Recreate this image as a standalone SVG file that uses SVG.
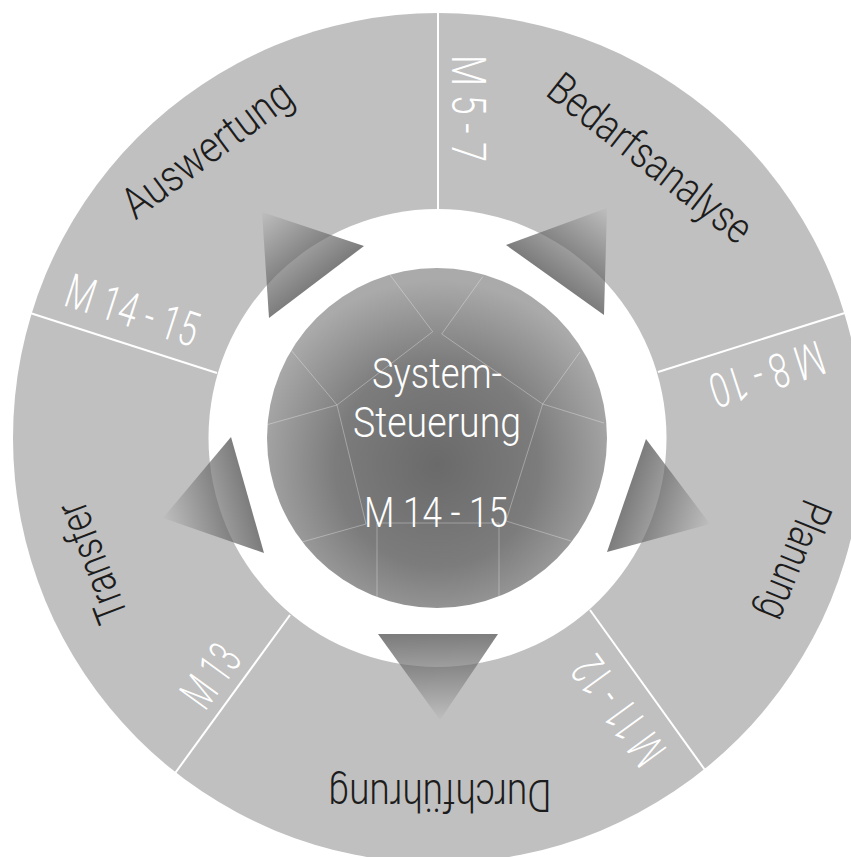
<svg xmlns="http://www.w3.org/2000/svg" width="851" height="857" viewBox="0 0 851 857">
<style>
  .lbl { font-family: Roboto, "Liberation Sans", "DejaVu Sans", sans-serif; font-weight: 300; fill: #1c1c1c; font-size: 44px; }
  .mlbl { font-family: Roboto, "Liberation Sans", "DejaVu Sans", sans-serif; font-weight: 300; fill: #ffffff; font-size: 48px; }
  .ctr { font-family: Roboto, "Liberation Sans", "DejaVu Sans", sans-serif; font-weight: 300; fill: #ffffff; font-size: 43px; text-anchor: middle; }
  .div { stroke: #ffffff; stroke-width: 2; fill: none; }
  .pent { stroke: #ffffff; stroke-opacity: 0.4; stroke-width: 0.8; fill: none; }
  .tri { opacity: 0.65; }
</style>
<defs>
  <radialGradient id="core" cx="437" cy="465" r="185" gradientUnits="userSpaceOnUse">
    <stop offset="0" stop-color="#6a6a6a"/>
    <stop offset="0.55" stop-color="#7c7c7c"/>
    <stop offset="1" stop-color="#aaaaaa"/>
  </radialGradient>
  <linearGradient id="gB" gradientUnits="userSpaceOnUse" x1="438" y1="634" x2="440" y2="720">
    <stop offset="0" stop-color="#363636"/><stop offset="1" stop-color="#bdbdbd"/>
  </linearGradient>
  <linearGradient id="gL" gradientUnits="userSpaceOnUse" x1="247.5" y1="495" x2="163" y2="518">
    <stop offset="0" stop-color="#363636"/><stop offset="1" stop-color="#bdbdbd"/>
  </linearGradient>
  <linearGradient id="gR" gradientUnits="userSpaceOnUse" x1="626.5" y1="495.5" x2="710" y2="524">
    <stop offset="0" stop-color="#363636"/><stop offset="1" stop-color="#bdbdbd"/>
  </linearGradient>
  <linearGradient id="gTL" gradientUnits="userSpaceOnUse" x1="316.5" y1="282" x2="262" y2="212">
    <stop offset="0" stop-color="#363636"/><stop offset="1" stop-color="#bdbdbd"/>
  </linearGradient>
  <linearGradient id="gTR" gradientUnits="userSpaceOnUse" x1="555" y1="280" x2="607" y2="208">
    <stop offset="0" stop-color="#363636"/><stop offset="1" stop-color="#bdbdbd"/>
  </linearGradient>
  <clipPath id="coreClip"><circle cx="437" cy="438" r="170"/></clipPath>
</defs>

<g id="ring">
  <circle cx="438" cy="438" r="425" fill="#c0c0c0"/>
  <circle cx="437.5" cy="438" r="229" fill="#ffffff"/>
</g>

<g id="dividers">
  <line class="div" x1="438" y1="10" x2="438" y2="210"/>
  <line class="div" x1="658" y1="372" x2="848" y2="312"/>
  <line class="div" x1="590" y1="610" x2="705" y2="770"/>
  <line class="div" x1="290" y1="615" x2="173" y2="776"/>
  <line class="div" x1="217" y1="373" x2="27" y2="312"/>
</g>

<g id="core-node">
  <circle cx="437" cy="438" r="170" fill="url(#core)"/>
  <g clip-path="url(#coreClip)" class="pent">
    <polyline points="390,275 432.7,331.7 337,405 366,524"/>
    <polyline points="482.7,276.7 441.7,334 542.7,404 506,521"/>
    <line x1="337" y1="405" x2="266" y2="425"/>
    <line x1="337" y1="405" x2="291" y2="350"/>
    <line x1="542.7" y1="404" x2="604" y2="423"/>
    <line x1="542.7" y1="404" x2="580" y2="352"/>
    <line x1="366" y1="524" x2="302" y2="542"/>
    <line x1="506" y1="521" x2="571" y2="541"/>
    <polyline points="377,600 377,523 499,523 499,600"/>
  </g>
  <text class="ctr" x="437" y="388" textLength="130" lengthAdjust="spacingAndGlyphs">System-</text>
  <text class="ctr" x="437" y="437" textLength="168" lengthAdjust="spacingAndGlyphs">Steuerung</text>
  <text class="ctr" x="436" y="527" textLength="144" lengthAdjust="spacingAndGlyphs">M 14 - 15</text>
</g>

<g id="arrows">
  <polygon class="tri" fill="url(#gTL)" points="262,212 364,246 269,318"/>
  <polygon class="tri" fill="url(#gTR)" points="607,208 506,245 604,315"/>
  <polygon class="tri" fill="url(#gR)" points="646,439 710,524 607,552"/>
  <polygon class="tri" fill="url(#gB)" points="378,634 498,634 440,720"/>
  <polygon class="tri" fill="url(#gL)" points="231,437 264,553 163,518"/>
</g>

<g id="bedarfsanalyse">
  <text class="lbl" text-anchor="middle" transform="translate(641,170) rotate(38)" textLength="246" lengthAdjust="spacingAndGlyphs">Bedarfsanalyse</text>
  <text class="mlbl" transform="translate(452,55) rotate(90)" textLength="107" lengthAdjust="spacingAndGlyphs">M 5 - 7</text>
</g>
<g id="planung">
  <text class="lbl" text-anchor="middle" transform="translate(781,555) rotate(112)" textLength="125" lengthAdjust="spacingAndGlyphs">Planung</text>
  <text class="mlbl" transform="translate(818,340) rotate(162)" textLength="118" lengthAdjust="spacingAndGlyphs">M 8 - 10</text>
</g>
<g id="durchfuehrung">
  <text class="lbl" text-anchor="middle" transform="translate(440,780) rotate(180)" textLength="223" lengthAdjust="spacingAndGlyphs">Durchführung</text>
  <text class="mlbl" transform="translate(668,750) rotate(234)" textLength="122" lengthAdjust="spacingAndGlyphs">M 11 - 12</text>
</g>
<g id="transfer">
  <text class="lbl" text-anchor="middle" transform="translate(106,557) rotate(-111)" textLength="126" lengthAdjust="spacingAndGlyphs">Transfer</text>
  <text class="mlbl" transform="translate(205,712) rotate(-54)" textLength="65" lengthAdjust="spacingAndGlyphs">M 13</text>
</g>
<g id="auswertung">
  <text class="lbl" text-anchor="middle" transform="translate(216,161) rotate(-36.5)" textLength="200" lengthAdjust="spacingAndGlyphs">Auswertung</text>
  <text class="mlbl" transform="translate(62,305) rotate(18)" textLength="137" lengthAdjust="spacingAndGlyphs">M 14 - 15</text>
</g>
</svg>
